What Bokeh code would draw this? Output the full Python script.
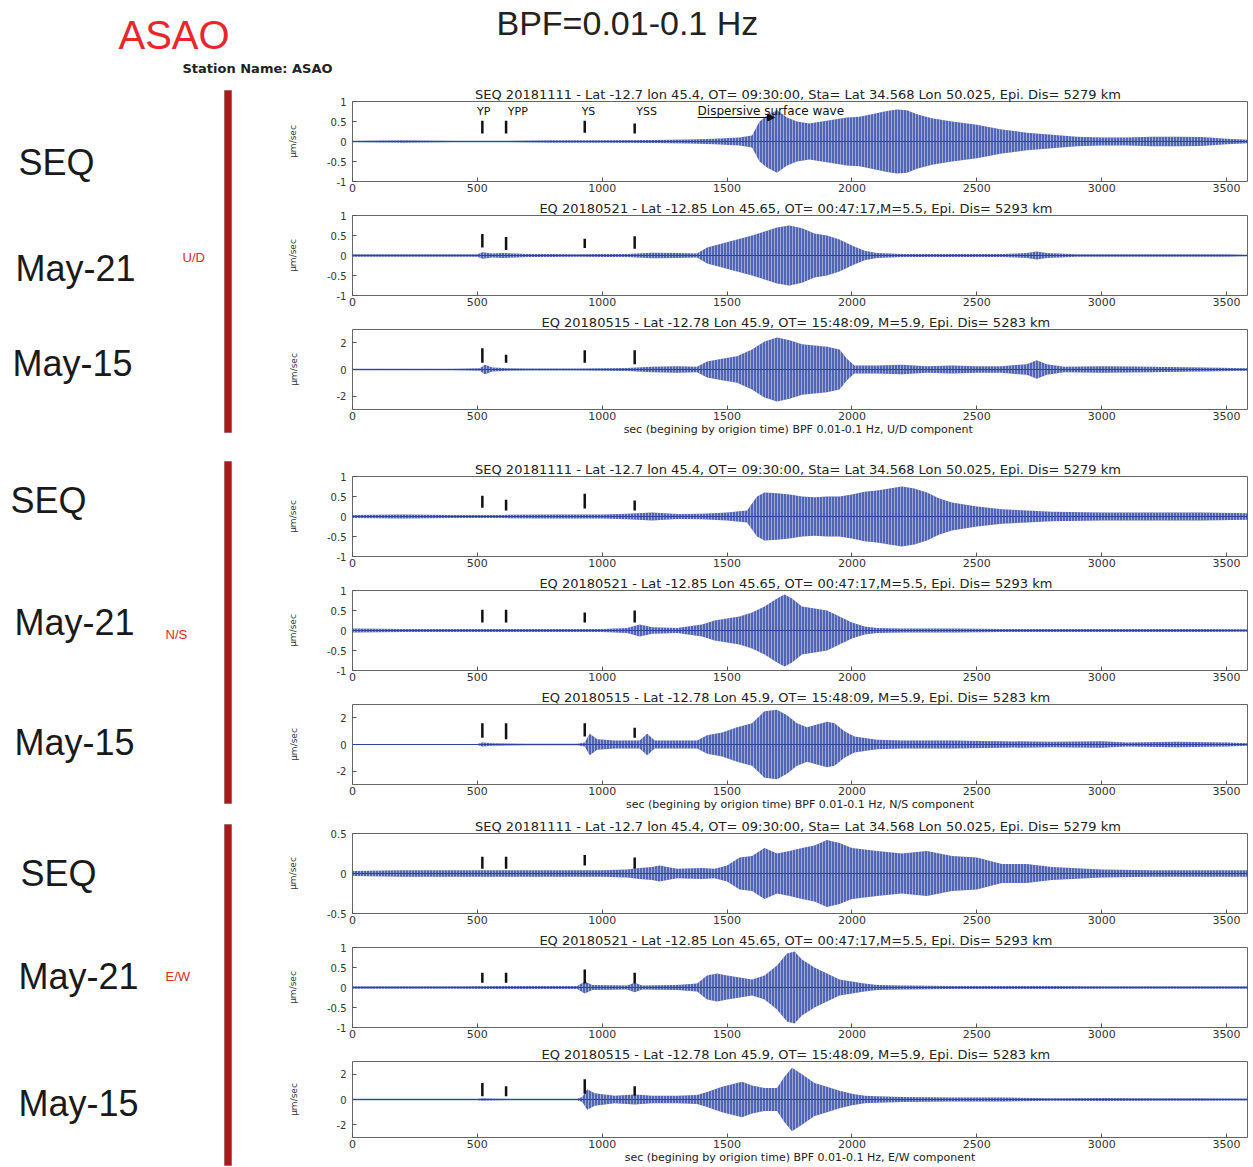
from bokeh.plotting import figure
from bokeh.models import (Range1d, FixedTicker, Label, BoxAnnotation, Span,
                          Arrow, NormalHead, CustomJSTickFormatter, ColumnDataSource)
from bokeh.layouts import column, row
from bokeh.core.properties import value
from bokeh.embed import file_html
from bokeh.resources import INLINE

PFONT = "DejaVu Sans"
BFONT = "Liberation Sans"
TRACE = "#2c42a0"

# ---------------- data ----------------
X_TICKS = [0, 500, 1000, 1500, 2000, 2500, 3000, 3500]
MARK_T = [520, 615, 930, 1130]                  # phase marker times (s)
PHASE_NAMES = ["YP", "YPP", "YS", "YSS"]
PHASE_LABEL_T = [525, 662, 945, 1178]

TITLE_SEQ = "SEQ 20181111 - Lat -12.7 lon 45.4,  OT= 09:30:00, Sta= Lat 34.568 Lon 50.025, Epi. Dis= 5279 km"
TITLE_M21 = "EQ 20180521 - Lat -12.85 Lon 45.65,  OT= 00:47:17,M=5.5,  Epi. Dis= 5293 km"
TITLE_M15 = "EQ 20180515 - Lat -12.78 Lon 45.9,  OT= 15:48:09, M=5.9,  Epi. Dis= 5283 km"
XLABEL_UD = "sec (begining by origion time)  BPF 0.01-0.1 Hz, U/D component"
XLABEL_NS = "sec (begining by origion time) BPF 0.01-0.1 Hz, N/S component"
XLABEL_EW = "sec (begining by origion time) BPF 0.01-0.1 Hz, E/W component"

# envelope (peak amplitude, um/sec)
t1 = [0, 200, 400, 600, 800, 1000, 1200, 1350, 1450, 1550, 1600, 1630, 1660, 1700, 1740, 1780, 1830, 1880,
      1930, 1980, 2030, 2080, 2130, 2180, 2220, 2260, 2320, 2400, 2500, 2600, 2700, 2800, 2900, 3000, 3100,
      3200, 3300, 3400, 3500, 3590]
a1 = [0.02, 0.03, 0.02, 0.02, 0.03, 0.03, 0.04, 0.05, 0.07, 0.1, 0.15, 0.5, 0.65, 0.78, 0.6, 0.5, 0.45, 0.5,
      0.55, 0.6, 0.62, 0.68, 0.75, 0.8, 0.78, 0.68, 0.58, 0.5, 0.42, 0.3, 0.22, 0.17, 0.12, 0.1, 0.1,
      0.12, 0.12, 0.11, 0.07, 0.04]

t2 = [0, 200, 400, 500, 520, 560, 600, 700, 800, 900, 1000, 1100, 1200, 1300, 1380, 1420, 1480, 1540, 1600,
      1650, 1700, 1750, 1800, 1850, 1900, 1950, 2000, 2050, 2100, 2200, 2400, 2600, 2700, 2740, 2780, 2900,
      3100, 3300, 3500, 3590]
a2 = [0.03, 0.03, 0.03, 0.03, 0.08, 0.05, 0.06, 0.04, 0.04, 0.03, 0.04, 0.04, 0.07, 0.06, 0.05, 0.2, 0.3, 0.4,
      0.5, 0.6, 0.7, 0.75, 0.68, 0.55, 0.5, 0.4, 0.25, 0.12, 0.06, 0.04, 0.04, 0.04, 0.06, 0.1, 0.06, 0.03,
      0.03, 0.03, 0.03, 0.02]

t3 = [0, 400, 510, 530, 560, 620, 700, 900, 1000, 1100, 1200, 1300, 1380, 1420, 1480, 1540, 1600, 1650, 1700,
      1750, 1800, 1850, 1900, 1950, 1980, 2010, 2100, 2200, 2300, 2400, 2500, 2600, 2700, 2740, 2780, 2850,
      3000, 3200, 3400, 3590]
a3 = [0.05, 0.05, 0.1, 0.35, 0.15, 0.1, 0.08, 0.08, 0.1, 0.12, 0.2, 0.25, 0.2, 0.6, 0.8, 1.0, 1.5, 2.1, 2.4,
      2.2, 1.9, 1.8, 1.7, 1.5, 0.8, 0.3, 0.3, 0.35, 0.25, 0.3, 0.25, 0.25, 0.4, 0.7, 0.4, 0.2,
      0.25, 0.2, 0.15, 0.1]

t4 = [0, 200, 400, 600, 800, 1000, 1100, 1200, 1250, 1300, 1400, 1500, 1580, 1620, 1650, 1700, 1750, 1800,
      1850, 1900, 1950, 2000, 2050, 2100, 2150, 2200, 2250, 2300, 2350, 2400, 2500, 2600, 2700, 2800, 3000,
      3200, 3400, 3590]
a4 = [0.04, 0.05, 0.04, 0.04, 0.05, 0.05, 0.07, 0.1, 0.08, 0.06, 0.07, 0.1, 0.15, 0.5, 0.6, 0.58, 0.55, 0.5,
      0.48, 0.5, 0.5, 0.55, 0.62, 0.65, 0.7, 0.75, 0.7, 0.6, 0.45, 0.35, 0.25, 0.18, 0.15, 0.12, 0.1,
      0.1, 0.1, 0.08]

t5 = [0, 200, 400, 600, 800, 1000, 1100, 1150, 1200, 1300, 1400, 1450, 1500, 1550, 1600, 1650, 1700, 1730,
      1760, 1800, 1850, 1900, 1950, 2000, 2050, 2100, 2200, 2400, 2600, 2800, 3000, 3200, 3400, 3590]
a5 = [0.05, 0.04, 0.04, 0.04, 0.04, 0.04, 0.06, 0.15, 0.08, 0.06, 0.15, 0.25, 0.3, 0.35, 0.45, 0.6, 0.8, 0.9,
      0.8, 0.6, 0.55, 0.5, 0.35, 0.2, 0.1, 0.06, 0.05, 0.05, 0.04, 0.04, 0.04, 0.04, 0.04, 0.03]

t6 = [0, 500, 520, 560, 700, 900, 930, 950, 980, 1050, 1150, 1180, 1210, 1300, 1380, 1420, 1480, 1540, 1600,
      1650, 1700, 1740, 1780, 1820, 1860, 1900, 1930, 1970, 2010, 2100, 2200, 2400, 2600, 2800, 3000, 3100,
      3300, 3500, 3590]
a6 = [0.03, 0.03, 0.15, 0.1, 0.05, 0.05, 0.15, 0.8, 0.4, 0.3, 0.3, 0.8, 0.3, 0.3, 0.3, 0.7, 0.9, 1.3, 1.6,
      2.5, 2.6, 2.2, 1.6, 1.3, 1.5, 1.7, 1.6, 1.0, 0.6, 0.35, 0.3, 0.3, 0.25, 0.2, 0.25, 0.15,
      0.2, 0.15, 0.1]

t7 = [0, 200, 400, 600, 800, 1000, 1100, 1150, 1200, 1230, 1260, 1300, 1400, 1450, 1500, 1550, 1600, 1650,
      1700, 1750, 1800, 1850, 1900, 1950, 2000, 2050, 2100, 2200, 2300, 2400, 2500, 2600, 2700, 2800, 3000,
      3200, 3400, 3590]
a7 = [0.03, 0.04, 0.04, 0.04, 0.04, 0.04, 0.05, 0.07, 0.08, 0.1, 0.08, 0.06, 0.07, 0.06, 0.1, 0.2, 0.22, 0.32,
      0.25, 0.28, 0.32, 0.35, 0.42, 0.38, 0.32, 0.3, 0.28, 0.25, 0.28, 0.22, 0.2, 0.12, 0.12, 0.08, 0.05,
      0.04, 0.04, 0.04]

t8 = [0, 400, 600, 900, 930, 960, 1100, 1130, 1160, 1300, 1380, 1420, 1460, 1500, 1550, 1600, 1650, 1700,
      1740, 1770, 1800, 1850, 1900, 1950, 2000, 2050, 2100, 2200, 2400, 2600, 2800, 3000, 3200, 3400, 3590]
a8 = [0.03, 0.03, 0.04, 0.04, 0.15, 0.06, 0.05, 0.12, 0.05, 0.06, 0.1, 0.3, 0.35, 0.3, 0.25, 0.2, 0.3, 0.55,
      0.85, 0.9, 0.7, 0.5, 0.35, 0.2, 0.15, 0.1, 0.06, 0.05, 0.04, 0.04, 0.04, 0.03, 0.03, 0.03, 0.03]

t9 = [0, 500, 520, 560, 700, 900, 920, 940, 970, 1050, 1130, 1200, 1300, 1380, 1420, 1480, 1520, 1560, 1600,
      1650, 1700, 1730, 1760, 1800, 1850, 1900, 1950, 2000, 2050, 2100, 2200, 2400, 2600, 2800, 3000, 3200,
      3400, 3590]
a9 = [0.05, 0.05, 0.1, 0.08, 0.05, 0.05, 0.2, 0.8, 0.5, 0.3, 0.4, 0.3, 0.3, 0.35, 0.6, 1.0, 1.2, 1.4, 1.1,
      0.9, 0.9, 1.8, 2.5, 2.0, 1.3, 1.0, 0.7, 0.45, 0.3, 0.25, 0.2, 0.15, 0.15, 0.1, 0.12, 0.1,
      0.1, 0.08]

# phase-marker bars (bottom / top, um/sec) for each panel
m1_lo, m1_hi = [0.2, 0.2, 0.22, 0.2], [0.52, 0.52, 0.52, 0.45]
m2_lo, m2_hi = [0.2, 0.14, 0.19, 0.17], [0.54, 0.46, 0.42, 0.48]
m3_lo, m3_hi = [0.5, 0.5, 0.5, 0.4], [1.6, 1.1, 1.45, 1.45]
m4_lo, m4_hi = [0.22, 0.15, 0.2, 0.15], [0.52, 0.42, 0.57, 0.4]
m5_lo, m5_hi = [0.2, 0.2, 0.2, 0.2], [0.52, 0.52, 0.45, 0.5]
m6_lo, m6_hi = [0.5, 0.4, 0.6, 0.5], [1.6, 1.6, 1.6, 1.25]
m7_lo, m7_hi = [0.06, 0.06, 0.1, 0.06], [0.21, 0.21, 0.23, 0.2]
m8_lo, m8_hi = [0.12, 0.12, 0.1, 0.1], [0.37, 0.37, 0.45, 0.37]
m9_lo, m9_hi = [0.25, 0.25, 0.45, 0.3], [1.3, 1.05, 1.6, 1.05]

YT_1 = [-1, -0.5, 0, 0.5, 1]
YT_3 = [-2, 0, 2]
YT_05 = [-0.5, 0, 0.5]

FMT = CustomJSTickFormatter(code="return tick.toString()")


def style_axis(ax, ticks, size, standoff):
    ax.ticker = FixedTicker(ticks=ticks)
    ax.formatter = FMT
    ax.major_tick_in = 4
    ax.major_tick_out = 0
    ax.minor_tick_line_color = None
    ax.axis_line_color = None
    ax.major_tick_line_color = "#555555"
    ax.major_label_text_font = PFONT
    ax.major_label_text_color = "#333333"
    ax.major_label_text_font_size = size
    ax.major_label_standoff = standoff


def panel(title, t, a, ylim, yticks, mlo, mhi, bottom, xlabel=None, ylab_standoff=26, first=False):
    top = 17
    p = figure(width=970, height=top + 80 + bottom, x_range=Range1d(0, 3584), y_range=Range1d(-ylim, ylim),
               output_backend="svg", toolbar_location=None, min_border_left=72, min_border_right=3,
               min_border_top=top, min_border_bottom=bottom, title=title)
    p.title.text_font = PFONT
    p.title.text_font_size = "13px"
    p.title.text_font_style = "normal"
    p.title.text_color = "#222222"
    p.title.align = "center"
    p.title.standoff = 0
    p.outline_line_color = "#666666"
    p.grid.visible = False
    style_axis(p.xaxis[0], X_TICKS, "11px", 2)
    style_axis(p.yaxis[0], yticks, "10px", 6)
    p.yaxis.axis_label = "\u03bcm/sec"
    p.yaxis.axis_label_text_font = PFONT
    p.yaxis.axis_label_text_font_size = "9px"
    p.yaxis.axis_label_text_font_style = "normal"
    p.yaxis.axis_label_text_color = "#333333"
    p.yaxis.axis_label_standoff = ylab_standoff
    if xlabel:
        p.xaxis.axis_label = xlabel
        p.xaxis.axis_label_text_font = PFONT
        p.xaxis.axis_label_text_font_size = "11px"
        p.xaxis.axis_label_text_font_style = "normal"
        p.xaxis.axis_label_text_color = "#222222"
        p.xaxis.axis_label_standoff = 0

    src = ColumnDataSource(dict(t=t, up=a, lo=[-v for v in a]))
    p.varea(x="t", y1="lo", y2="up", source=src, fill_color="#3a50a8", fill_alpha=0.88,
            hatch_pattern="vertical_line", hatch_color="white", hatch_alpha=0.55,
            hatch_scale=3, hatch_weight=0.8)
    p.add_layout(Span(location=0, dimension="width", line_color=TRACE, line_width=1))
    p.segment(x0=MARK_T, y0=mlo, x1=MARK_T, y1=mhi, line_width=2.5, line_color="#111111")

    if first:
        p.text(x=PHASE_LABEL_T, y=[0.58] * 4, text=PHASE_NAMES, text_font=value(PFONT),
               text_font_size="11px", text_align="center", text_baseline="bottom", text_color="#111111")
        p.add_layout(Arrow(end=NormalHead(size=7, fill_color="#111111", line_color="#111111"),
                           x_start=1382, y_start=0.6, x_end=1690, y_end=0.6,
                           line_color="#111111", line_width=1.2))
        p.add_layout(Label(x=1382, y=0.6, text="Dispersive surface wave", text_font=PFONT,
                           text_font_size="12px", text_baseline="bottom", text_color="#111111"))
    return p


panels = [
    panel(TITLE_SEQ, t1, a1, 1, YT_1, m1_lo, m1_hi, 17, first=True),
    panel(TITLE_M21, t2, a2, 1, YT_1, m2_lo, m2_hi, 17),
    panel(TITLE_M15, t3, a3, 3, YT_3, m3_lo, m3_hi, 50, xlabel=XLABEL_UD, ylab_standoff=35),
    panel(TITLE_SEQ, t4, a4, 1, YT_1, m4_lo, m4_hi, 17),
    panel(TITLE_M21, t5, a5, 1, YT_1, m5_lo, m5_hi, 17),
    panel(TITLE_M15, t6, a6, 3, YT_3, m6_lo, m6_hi, 32, xlabel=XLABEL_NS, ylab_standoff=35),
    panel(TITLE_SEQ, t7, a7, 0.5, YT_05, m7_lo, m7_hi, 17),
    panel(TITLE_M21, t8, a8, 1, YT_1, m8_lo, m8_hi, 17),
    panel(TITLE_M15, t9, a9, 3, YT_3, m9_lo, m9_hi, 25, xlabel=XLABEL_EW, ylab_standoff=35),
]
RIGHT_H = sum(p.height for p in panels)

# ---------------- left labels ----------------
EVENT_LABELS = ["SEQ", "May-21", "May-15", "SEQ", "May-21", "May-15", "SEQ", "May-21", "May-15"]
EVENT_X = [18, 15, 12, 10, 14, 14, 20, 18, 18]
EVENT_Y = [78, 184, 279, 416, 538, 658, 789, 892, 1019]
COMP_LABELS = ["U/D", "N/S", "E/W"]
COMP_X = [182, 165, 165]
COMP_Y = [173, 550, 892]
BAR_TOP = [6, 377, 740]
BAR_BOTTOM = [348, 719, 1081]

left = figure(width=280, height=RIGHT_H, x_range=Range1d(0, 280), y_range=Range1d(RIGHT_H, 0),
              output_backend="svg", toolbar_location=None, x_axis_type=None, y_axis_type=None,
              min_border=0, outline_line_color=None)
left.grid.visible = False
for txt, x, y in zip(EVENT_LABELS, EVENT_X, EVENT_Y):
    left.add_layout(Label(x=x, y=y, text=txt, text_font=BFONT, text_font_size="36px",
                          text_baseline="middle", text_color="#1a1a1a"))
for txt, x, y in zip(COMP_LABELS, COMP_X, COMP_Y):
    left.add_layout(Label(x=x, y=y, text=txt, text_font=BFONT, text_font_size="13px",
                          text_baseline="middle", text_color="#e02828"))
for tp, bt in zip(BAR_TOP, BAR_BOTTOM):
    left.add_layout(BoxAnnotation(left=224, right=231, top=tp, bottom=bt, fill_color="#ad1818",
                                  fill_alpha=1.0, line_color="#3a0c0c", line_width=1))

# ---------------- header ----------------
HEAD_H = 84
head = figure(width=1250, height=HEAD_H, x_range=Range1d(0, 1250), y_range=Range1d(HEAD_H, 0),
              output_backend="svg", toolbar_location=None, x_axis_type=None, y_axis_type=None,
              min_border=0, outline_line_color=None)
head.grid.visible = False
head.add_layout(Label(x=118, y=34, text="ASAO", text_font=BFONT, text_font_size="40px",
                      text_baseline="middle", text_color="#e8262b"))
head.add_layout(Label(x=496, y=22, text="BPF=0.01-0.1 Hz", text_font=BFONT, text_font_size="34px",
                      text_baseline="middle", text_color="#222222"))
head.add_layout(Label(x=182, y=68, text="Station Name: ASAO", text_font=PFONT, text_font_size="13px",
                      text_font_style="bold", text_baseline="middle", text_color="#222222"))

layout = column(head, row(left, column(*panels, spacing=0), spacing=0), spacing=0)
open("out.html", "w").write(file_html(layout, INLINE))
